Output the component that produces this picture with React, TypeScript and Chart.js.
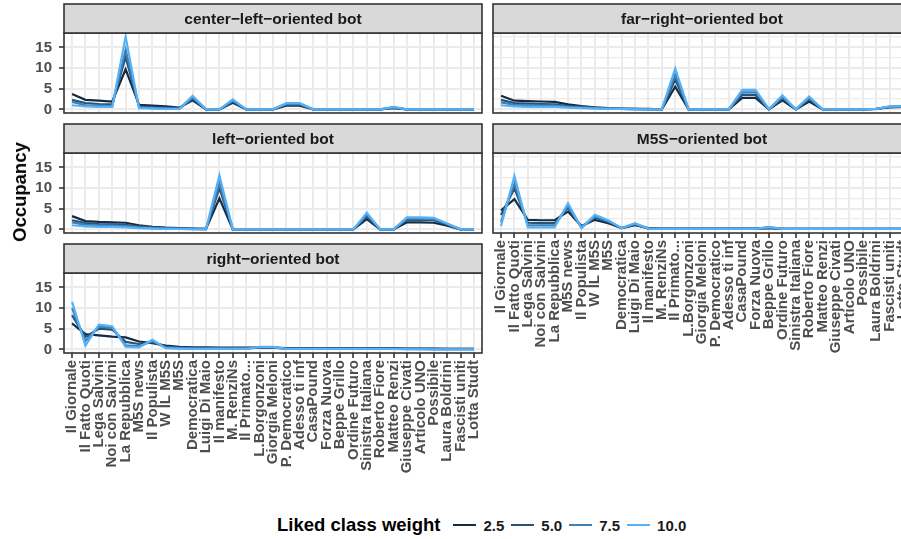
import React, { useEffect, useRef } from 'react';
import { Chart, registerables } from 'chart.js';

Chart.register(...registerables);

const FONT = '"Liberation Sans", Arial, Helvetica, sans-serif';

const categories = [
  'Il Giornale', 'Il Fatto Quoti', 'Lega Salvini', 'Noi con Salvini', 'La Repubblica',
  'M5S news', 'Il Populista', 'W IL M5S', 'M5S', 'Democratica', 'Luigi Di Maio',
  'Il manifesto', 'M. RenziNs', 'Il Primato...', 'L.Borgonzoni', 'Giorgia Meloni',
  'P. Democratico', 'Adesso ti inf', 'CasaPound', 'Forza Nuova', 'Beppe Grillo',
  'Ordine Futuro', 'Sinistra Italiana', 'Roberto Fiore', 'Matteo Renzi',
  'Giuseppe Civati', 'Articolo UNO', 'Possibile', 'Laura Boldrini', 'Fascisti uniti',
  'Lotta Studt',
];

const weightLabels = ['2.5', '5.0', '7.5', '10.0'];
const weightColors = ['#132B43', '#28547A', '#3E81B7', '#56B1F7'];

const yMajorTicks = [0, 5, 10, 15];
const yMinorTicks = [2.5, 7.5, 12.5, 17.5];

// center-left-oriented bot
const centerLeft25 = [3.7, 2.3, 2.1, 1.9, 9.7, 1.1, 0.9, 0.7, 0.4, 2.2, 0, 0, 1.6, 0, 0, 0, 0.9, 0.9, 0, 0, 0, 0, 0, 0, 0.3, 0, 0, 0, 0, 0, 0];
const centerLeft50 = [2.3, 1.5, 1.3, 1.2, 12.7, 0.7, 0.5, 0.4, 0.2, 2.6, 0, 0, 1.9, 0, 0, 0, 1.1, 1.1, 0, 0, 0, 0, 0, 0, 0.4, 0, 0, 0, 0, 0, 0];
const centerLeft75 = [1.8, 1.0, 0.9, 0.8, 14.4, 0.5, 0.3, 0.2, 0.1, 2.9, 0, 0, 2.1, 0, 0, 0, 1.3, 1.3, 0, 0, 0, 0, 0, 0, 0.5, 0, 0, 0, 0, 0, 0];
const centerLeft100 = [1.0, 0.7, 0.6, 0.6, 17.6, 0.3, 0.2, 0.1, 0.1, 3.3, 0, 0, 2.4, 0, 0, 0, 1.5, 1.5, 0, 0, 0, 0, 0, 0, 0.6, 0, 0, 0, 0, 0, 0];

// far-right-oriented bot
const farRight25 = [3.3, 2.1, 2.0, 1.9, 1.8, 1.2, 0.8, 0.5, 0.3, 0.2, 0.1, 0.1, 0, 5.5, 0, 0, 0, 0, 2.8, 2.8, 0, 2.2, 0, 1.9, 0, 0, 0, 0, 0.1, 0.5, 0.6];
const farRight50 = [2.3, 1.5, 1.4, 1.3, 1.2, 0.8, 0.6, 0.4, 0.2, 0.1, 0.1, 0, 0, 7.2, 0, 0, 0, 0, 3.5, 3.5, 0, 2.7, 0, 2.4, 0, 0, 0, 0, 0.1, 0.6, 0.7];
const farRight75 = [1.7, 1.1, 1.0, 0.9, 0.9, 0.6, 0.4, 0.3, 0.2, 0.1, 0, 0, 0, 8.4, 0, 0, 0, 0, 4.1, 4.1, 0, 3.0, 0, 2.8, 0, 0, 0, 0, 0.1, 0.6, 0.7];
const farRight100 = [1.0, 0.7, 0.6, 0.6, 0.6, 0.4, 0.3, 0.2, 0.1, 0.1, 0, 0, 0, 9.9, 0, 0, 0, 0, 4.7, 4.7, 0, 3.4, 0, 3.1, 0, 0, 0, 0, 0.1, 0.7, 0.7];

// left-oriented bot
const left25 = [3.2, 2.0, 1.8, 1.7, 1.6, 1.0, 0.6, 0.4, 0.3, 0.2, 0.1, 7.5, 0, 0, 0, 0, 0, 0, 0, 0, 0, 0, 2.5, 0, 0, 1.7, 1.7, 1.6, 0.9, 0, 0];
const left50 = [2.2, 1.5, 1.3, 1.2, 1.1, 0.7, 0.5, 0.3, 0.2, 0.1, 0.1, 10.0, 0, 0, 0, 0, 0, 0, 0, 0, 0, 0, 3.1, 0, 0, 2.3, 2.3, 2.2, 1.1, 0, 0];
const left75 = [1.7, 1.1, 1.0, 0.9, 0.8, 0.5, 0.3, 0.2, 0.1, 0.1, 0, 11.2, 0, 0, 0, 0, 0, 0, 0, 0, 0, 0, 3.6, 0, 0, 2.6, 2.6, 2.5, 1.3, 0, 0];
const left100 = [1.0, 0.7, 0.6, 0.6, 0.5, 0.3, 0.2, 0.1, 0.1, 0, 0, 13.1, 0, 0, 0, 0, 0, 0, 0, 0, 0, 0, 4.0, 0, 0, 2.9, 2.9, 2.8, 1.4, 0, 0];

// M5S-oriented bot
const m5s25 = [4.6, 7.3, 2.3, 2.2, 2.2, 4.3, 0.8, 2.3, 1.5, 0.3, 1.0, 0.3, 0.2, 0.2, 0.2, 0.2, 0.2, 0.2, 0.2, 0.2, 0.3, 0.1, 0.1, 0.1, 0.1, 0.1, 0.1, 0.1, 0.1, 0.1, 0.1];
const m5s50 = [3.5, 9.9, 1.6, 1.5, 1.5, 5.2, 0.6, 2.8, 1.8, 0.3, 1.2, 0.2, 0.2, 0.1, 0.1, 0.1, 0.1, 0.1, 0.1, 0.1, 0.4, 0.1, 0.1, 0.1, 0.1, 0.1, 0.1, 0.1, 0.1, 0.1, 0.1];
const m5s75 = [1.8, 11.1, 1.0, 1.0, 1.0, 5.7, 0.4, 3.1, 2.0, 0.3, 1.3, 0.2, 0.1, 0.1, 0.1, 0.1, 0.1, 0.1, 0.1, 0.1, 0.5, 0.1, 0.1, 0.1, 0.1, 0.1, 0.1, 0.1, 0.1, 0.1, 0.1];
const m5s100 = [0.8, 12.9, 0.5, 0.5, 0.5, 6.3, 0.3, 3.5, 2.2, 0.3, 1.5, 0.2, 0.1, 0.1, 0.1, 0.1, 0.1, 0.1, 0.1, 0.1, 0.6, 0.1, 0.1, 0.1, 0.1, 0.1, 0.1, 0.1, 0.1, 0.1, 0.1];

// right-oriented bot
const right25 = [6.3, 3.7, 3.4, 3.1, 2.9, 1.9, 1.5, 0.9, 0.6, 0.5, 0.5, 0.4, 0.4, 0.4, 0.4, 0.4, 0.3, 0.3, 0.3, 0.3, 0.3, 0.3, 0.3, 0.3, 0.3, 0.2, 0.2, 0.2, 0.1, 0.1, 0.1];
const right50 = [8.3, 3.0, 5.0, 4.8, 1.8, 1.3, 1.8, 0.6, 0.4, 0.3, 0.3, 0.3, 0.3, 0.3, 0.4, 0.4, 0.2, 0.2, 0.2, 0.2, 0.2, 0.2, 0.2, 0.2, 0.2, 0.1, 0.1, 0.1, 0.1, 0.1, 0.1];
const right75 = [10.0, 2.0, 5.5, 5.2, 1.0, 0.8, 2.0, 0.4, 0.3, 0.2, 0.2, 0.2, 0.2, 0.2, 0.5, 0.5, 0.1, 0.1, 0.1, 0.1, 0.1, 0.1, 0.1, 0.1, 0.1, 0.1, 0.1, 0, 0, 0, 0];
const right100 = [11.5, 0.9, 6.0, 5.6, 0.6, 0.5, 2.3, 0.3, 0.2, 0.1, 0.1, 0.1, 0.1, 0.1, 0.6, 0.6, 0.1, 0.1, 0.1, 0.1, 0.1, 0.1, 0.1, 0.1, 0.1, 0, 0, 0, 0, 0, 0];

const PLOT_W = 418;
const PLOT_H = 80;
const STRIP_H = 29;
const Y_MIN = -0.88;
const Y_MAX = 18.48;
const X_MIN = -0.6;
const X_MAX = 30.6;

const facetPlugin = {
  id: 'facetDecor',
  afterDatasetsDraw(chart: any, _args: any, opts: any) {
    const { ctx, chartArea: a } = chart;
    ctx.save();
    ctx.strokeStyle = '#333333';
    ctx.lineWidth = 1.6;
    ctx.strokeRect(a.left, a.top, a.right - a.left, a.bottom - a.top);
    const y0 = a.top - STRIP_H;
    ctx.fillStyle = '#D9D9D9';
    ctx.fillRect(a.left, y0, a.right - a.left, STRIP_H);
    ctx.strokeRect(a.left, y0, a.right - a.left, STRIP_H);
    ctx.fillStyle = '#1A1A1A';
    ctx.font = `bold 15.5px ${FONT}`;
    ctx.textAlign = 'center';
    ctx.textBaseline = 'middle';
    ctx.fillText(opts.title, (a.left + a.right) / 2, y0 + STRIP_H / 2 + 1);
    ctx.restore();
  },
};

type PanelProps = {
  title: string;
  series: number[][];
  plotLeft: number;
  plotTop: number;
  showY: boolean;
  showX: boolean;
};

function FacetPanel({ title, series, plotLeft, plotTop, showY, showX }: PanelProps) {
  const ref = useRef<HTMLCanvasElement | null>(null);
  const axisW = showY ? 64 : 3;
  const padTop = STRIP_H + 2;
  const xAxisH = showX ? 125 : 0;
  const padRight = 20;
  const padBottom = showX ? 2 : 24;
  const width = axisW + PLOT_W + padRight;
  const height = padTop + PLOT_H + xAxisH + padBottom;
  const left = plotLeft - axisW;
  const top = plotTop - padTop;

  useEffect(() => {
    if (!ref.current) return;
    const tickFont = { family: FONT, size: 15, weight: 'bold' as const };
    const chart = new Chart(ref.current, {
      type: 'line',
      data: {
        datasets: series.map((vals, k) => ({
          label: weightLabels[k],
          data: vals.map((v, i) => ({ x: i, y: v })),
          borderColor: weightColors[k],
          backgroundColor: weightColors[k],
          borderWidth: 2.2,
          pointRadius: 0,
          tension: 0,
          fill: false,
          order: series.length - 1 - k,
        })),
      },
      options: {
        responsive: false,
        animation: false,
        events: [],
        devicePixelRatio: 1,
        layout: { padding: { top: padTop, right: padRight, bottom: padBottom, left: 0 } },
        plugins: {
          legend: { display: false },
          tooltip: { enabled: false },
          title: { display: false },
          facetDecor: { title },
        } as any,
        scales: {
          x: {
            type: 'linear',
            min: X_MIN,
            max: X_MAX,
            afterBuildTicks: (s: any) => {
              s.ticks = categories.map((_, i) => ({ value: i }));
            },
            afterFit: (s: any) => {
              s.height = xAxisH;
            },
            border: { display: false },
            grid: {
              color: '#EBEBEB',
              lineWidth: 2,
              drawTicks: showX,
              tickLength: 5,
              tickColor: '#333333',
              tickWidth: 1.6,
            },
            ticks: {
              display: showX,
              autoSkip: false,
              maxRotation: 90,
              minRotation: 90,
              padding: 2,
              color: '#4D4D4D',
              font: tickFont,
              callback: (v: any) => categories[v as number] ?? '',
            },
          },
          y: {
            type: 'linear',
            min: Y_MIN,
            max: Y_MAX,
            afterBuildTicks: (s: any) => {
              s.ticks = [...yMajorTicks, ...yMinorTicks].sort((a, b) => a - b).map((v) => ({ value: v }));
            },
            afterFit: (s: any) => {
              s.width = axisW;
            },
            border: { display: false },
            grid: {
              color: '#EBEBEB',
              lineWidth: (c: any) => (c.tick && yMajorTicks.includes(c.tick.value) ? 2 : 1.2),
              drawTicks: showY,
              tickLength: 5,
              tickColor: (c: any) => (c.tick && yMajorTicks.includes(c.tick.value) ? '#333333' : 'rgba(0,0,0,0)'),
              tickWidth: 1.6,
            },
            ticks: {
              display: showY,
              padding: 7,
              color: '#4D4D4D',
              font: tickFont,
              callback: (v: any) => (yMajorTicks.includes(v as number) ? String(v) : ''),
            },
          },
        },
      },
      plugins: [facetPlugin as any],
    });
    return () => chart.destroy();
  }, []);

  return (
    <canvas
      ref={ref}
      width={width}
      height={height}
      style={{ position: 'absolute', left, top, width, height }}
    />
  );
}

export default function App() {
  const LEFT_X = 64;
  const RIGHT_X = 493;
  const rowTops = [33, 153, 273];
  return (
    <div
      style={{
        position: 'fixed',
        left: 0,
        top: 0,
        width: 901,
        height: 539,
        overflow: 'hidden',
        background: '#ffffff',
        fontFamily: FONT,
      }}
    >
      <FacetPanel title="center−left−oriented bot" series={[centerLeft25, centerLeft50, centerLeft75, centerLeft100]} plotLeft={LEFT_X} plotTop={rowTops[0]} showY showX={false} />
      <FacetPanel title="left−oriented bot" series={[left25, left50, left75, left100]} plotLeft={LEFT_X} plotTop={rowTops[1]} showY showX={false} />
      <FacetPanel title="right−oriented bot" series={[right25, right50, right75, right100]} plotLeft={LEFT_X} plotTop={rowTops[2]} showY showX />
      <FacetPanel title="far−right−oriented bot" series={[farRight25, farRight50, farRight75, farRight100]} plotLeft={RIGHT_X} plotTop={rowTops[0]} showY={false} showX={false} />
      <FacetPanel title="M5S−oriented bot" series={[m5s25, m5s50, m5s75, m5s100]} plotLeft={RIGHT_X} plotTop={rowTops[1]} showY={false} showX />

      <div
        style={{
          position: 'absolute',
          left: 20,
          top: 192,
          transform: 'translate(-50%, -50%) rotate(-90deg)',
          whiteSpace: 'nowrap',
          fontWeight: 'bold',
          fontSize: 18.5,
          color: '#000000',
        }}
      >
        Occupancy
      </div>

      <div
        style={{
          position: 'absolute',
          left: 277,
          top: 513,
          height: 24,
          display: 'flex',
          alignItems: 'center',
          whiteSpace: 'nowrap',
          fontWeight: 'bold',
        }}
      >
        <span style={{ fontSize: 18.5, color: '#000000', marginRight: 13 }}>Liked class weight</span>
        {weightLabels.map((lab, k) => (
          <span key={lab} style={{ display: 'flex', alignItems: 'center', marginRight: 7 }}>
            <span style={{ display: 'inline-block', width: 23, height: 2.2, background: weightColors[k], marginRight: 7 }} />
            <span style={{ fontSize: 15, color: '#1A1A1A' }}>{lab}</span>
          </span>
        ))}
      </div>
    </div>
  );
}
